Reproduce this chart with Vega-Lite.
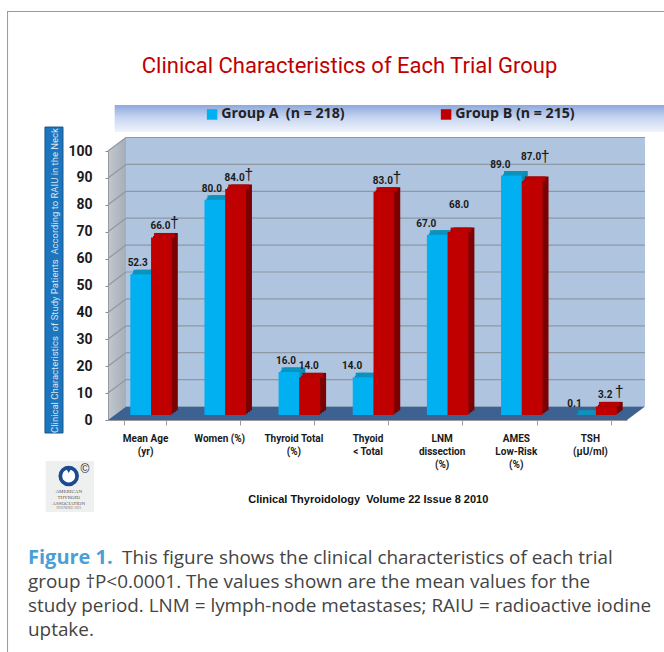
{
"$schema":"https://vega.github.io/schema/vega-lite/v6.json",
"width":519,"height":269,"autosize":"none","padding":{"left":108,"top":151,"right":37,"bottom":232},
"background":"white",
"title":{"text":"Clinical Characteristics of Each Trial Group","font":"Roboto","fontSize":22,"fontWeight":"normal","color":"#c00000","anchor":"middle","dx":-18,"offset":-77,"baseline":"middle"},
"config":{"view":{"stroke":null},"axisY":{"tickCount":11}},
"data":{"values":[
{"category":"Mean Age|(yr)","group":"Group A\u00a0\u00a0(n = 218)","value":52.3,"sig":false},
{"category":"Mean Age|(yr)","group":"Group B (n = 215)","value":66.0,"sig":true},
{"category":"Women (%)","group":"Group A\u00a0\u00a0(n = 218)","value":80.0,"sig":false},
{"category":"Women (%)","group":"Group B (n = 215)","value":84.0,"sig":true},
{"category":"Thyroid Total|(%)","group":"Group A\u00a0\u00a0(n = 218)","value":16.0,"sig":false},
{"category":"Thyroid Total|(%)","group":"Group B (n = 215)","value":14.0,"sig":false},
{"category":"Thyoid|< Total","group":"Group A\u00a0\u00a0(n = 218)","value":14.0,"sig":false},
{"category":"Thyoid|< Total","group":"Group B (n = 215)","value":83.0,"sig":true},
{"category":"LNM|dissection|(%)","group":"Group A\u00a0\u00a0(n = 218)","value":67.0,"sig":false},
{"category":"LNM|dissection|(%)","group":"Group B (n = 215)","value":68.0,"sig":false},
{"category":"AMES|Low-Risk|(%)","group":"Group A\u00a0\u00a0(n = 218)","value":89.0,"sig":false},
{"category":"AMES|Low-Risk|(%)","group":"Group B (n = 215)","value":87.0,"sig":true},
{"category":"TSH|(\u00b5U/ml)","group":"Group A\u00a0\u00a0(n = 218)","value":0.1,"sig":false},
{"category":"TSH|(\u00b5U/ml)","group":"Group B (n = 215)","value":3.2,"sig":true}
]},
"resolve":{"scale":{"x":"independent"}},
"layer":[
{"layer":[
{"data":{"values":[{}]},"mark":{"type":"rect","fill":{"gradient":"linear","x1":0,"y1":0,"x2":0,"y2":1,"stops":[{"offset":0,"color":"#8ea8de"},{"offset":0.45,"color":"#c5d4f0"},{"offset":1,"color":"#f0f4fb"}]}},
 "encoding":{"x":{"datum":0.09,"type":"quantitative","scale":{"domain":[0,7]},"axis":null},"x2":{"datum":7.5},"y":{"datum":117.1,"type":"quantitative","scale":{"domain":[0,100],"nice":false},"axis":{"title":"Clinical Characteristics\u00a0\u00a0of Study Patients\u00a0\u00a0According to RAIU in the Neck","titleFont":"Roboto","titleFontSize":9.5,"titleFontWeight":"normal","titleColor":"#d5e6f3","titleX":-54,"titleY":129,"titleAngle":270,"titleAlign":"center","titleBaseline":"middle","zindex":1,"labelOverlap":false,"grid":false,"labelFont":"Roboto","labelFontWeight":"bold","labelFontSize":14,"labelColor":"#1a1a1a","labelPadding":13,"tickSize":3,"tickColor":"#8a8a8a","domainColor":"#9a9a9a"}},"y2":{"datum":107.06}}},
{"data":{"values":[{}]},"mark":{"type":"rect","fill":"#1d75bd","stroke":"#14568f","strokeWidth":1},"encoding":{"x":{"datum":-0.85,"type":"quantitative"},"x2":{"datum":-0.607},"y":{"datum":108.9,"type":"quantitative"},"y2":{"datum":-4.83}}},
{"data":{"values":[{}]},"mark":{"type":"rect","fill":"#5aaee0"},"encoding":{"x":{"datum":-1.362,"type":"quantitative"},"x2":{"datum":-1.348},"y":{"datum":152.04,"type":"quantitative"},"y2":{"datum":-86.2}}},
{"data":{"values":[{}]},"mark":{"type":"rect","fill":"#5aaee0"},"encoding":{"x":{"datum":-1.362,"type":"quantitative"},"x2":{"datum":7.5},"y":{"datum":152.04,"type":"quantitative"},"y2":{"datum":151.67}}},
{"data":{"values":[{"u":0,"lo":0,"hi":100},{"u":0.243,"lo":5,"hi":105}]},"mark":{"type":"area","fill":{"gradient":"linear","x1":0,"y1":0,"x2":1,"y2":0,"stops":[{"offset":0,"color":"#c3c8cf"},{"offset":1,"color":"#a5adb8"}]}},"encoding":{"x":{"field":"u","type":"quantitative"},"y":{"field":"lo","type":"quantitative"},"y2":{"field":"hi"}}},
{"data":{"values":[{}]},"mark":{"type":"rect","fill":"#afc4df","xOffset":18,"x2Offset":18,"yOffset":-13.5,"y2Offset":-13.5},"encoding":{"x":{"datum":0,"type":"quantitative"},"x2":{"datum":7},"y":{"datum":0,"type":"quantitative"},"y2":{"datum":100}}},
{"data":{"values":[{"v":10},{"v":20},{"v":30},{"v":40},{"v":50},{"v":60},{"v":70},{"v":80},{"v":90},{"v":100}]},"mark":{"type":"rule","stroke":"#8e98a4","strokeWidth":1.2,"xOffset":18,"x2Offset":18,"yOffset":-13.5},"encoding":{"x":{"datum":0,"type":"quantitative"},"x2":{"datum":7},"y":{"field":"v","type":"quantitative"}}},
{"data":{"values":[{"v":10},{"v":20},{"v":30},{"v":40},{"v":50},{"v":60},{"v":70},{"v":80},{"v":90},{"v":100}]},"mark":{"type":"rule","stroke":"#8e98a4","strokeWidth":1.2,"y2Offset":-13.5},"encoding":{"x":{"datum":0,"type":"quantitative"},"x2":{"datum":0.243},"y":{"field":"v","type":"quantitative"},"y2":{"field":"v"}}},
{"data":{"values":[{"u":0,"lo":0,"hi":0},{"u":0.243,"lo":0,"hi":5},{"u":7,"lo":0,"hi":5},{"u":7.243,"lo":5,"hi":5}]},"mark":{"type":"area","fill":"#3d6291"},"encoding":{"x":{"field":"u","type":"quantitative"},"y":{"field":"lo","type":"quantitative"},"y2":{"field":"hi"}}},
{"data":{"values":[{}]},"mark":{"type":"rect","fill":"#eef0f0"},"encoding":{"x":{"datum":-0.84,"type":"quantitative"},"x2":{"datum":-0.19},"y":{"datum":-15.2,"type":"quantitative"},"y2":{"datum":-34.2}}},
{"data":{"values":[{}]},"mark":{"type":"point","shape":"circle","filled":true,"size":420,"color":"#1d4a8e","opacity":1},"encoding":{"x":{"datum":-0.53,"type":"quantitative"},"y":{"datum":-20.8,"type":"quantitative"}}},
{"data":{"values":[{}]},"mark":{"type":"point","shape":"circle","filled":true,"size":170,"color":"white","opacity":1},"encoding":{"x":{"datum":-0.53,"type":"quantitative"},"y":{"datum":-20.8,"type":"quantitative"}}},
{"data":{"values":[{}]},"mark":{"type":"point","shape":"triangle-down","filled":true,"size":55,"color":"#1d4a8e","opacity":1},"encoding":{"x":{"datum":-0.53,"type":"quantitative"},"y":{"datum":-18.5,"type":"quantitative"}}},
{"data":{"values":[{}]},"mark":{"type":"text","text":"\u00a9","font":"Liberation Sans","fontSize":12,"color":"#222","baseline":"middle"},"encoding":{"x":{"datum":-0.31,"type":"quantitative"},"y":{"datum":-18.2,"type":"quantitative"}}},
{"data":{"values":[{}]},"mark":{"type":"text","text":"AMERICAN","font":"Liberation Serif","fontSize":5,"color":"#555","baseline":"middle"},"encoding":{"x":{"datum":-0.53,"type":"quantitative"},"y":{"datum":-26.4,"type":"quantitative"}}},
{"data":{"values":[{}]},"mark":{"type":"text","text":"THYROID","font":"Liberation Serif","fontSize":5,"color":"#555","baseline":"middle"},"encoding":{"x":{"datum":-0.53,"type":"quantitative"},"y":{"datum":-28.6,"type":"quantitative"}}},
{"data":{"values":[{}]},"mark":{"type":"text","text":"ASSOCIATION","font":"Liberation Serif","fontSize":5,"color":"#555","baseline":"middle"},"encoding":{"x":{"datum":-0.53,"type":"quantitative"},"y":{"datum":-30.8,"type":"quantitative"}}},
{"data":{"values":[{}]},"mark":{"type":"text","text":"FOUNDED 1923","font":"Liberation Serif","fontSize":3.5,"color":"#777","baseline":"middle"},"encoding":{"x":{"datum":-0.53,"type":"quantitative"},"y":{"datum":-32.8,"type":"quantitative"}}},
{"data":{"values":[{}]},"mark":{"type":"text","text":"Clinical Thyroidology\u00a0\u00a0Volume 22 Issue 8 2010","font":"Liberation Sans","fontWeight":"bold","fontSize":11,"color":"#111","baseline":"middle"},"encoding":{"x":{"datum":3.51,"type":"quantitative"},"y":{"datum":-29.7,"type":"quantitative"}}},
{"data":{"values":[{}]},"mark":{"type":"text","text":"Figure 1.","font":"Open Sans","fontWeight":"bold","fontSize":20,"color":"#4a9fd8","baseline":"middle","align":"left"},"encoding":{"x":{"datum":-1.079,"type":"quantitative"},"y":{"datum":-51.3,"type":"quantitative"}}},
{"data":{"values":[{}]},"mark":{"type":"text","text":"This figure shows the clinical characteristics of each trial","font":"Open Sans","fontSize":18.9,"color":"#444","baseline":"middle","align":"left"},"encoding":{"x":{"datum":0.189,"type":"quantitative"},"y":{"datum":-51.3,"type":"quantitative"}}},
{"data":{"values":[{}]},"mark":{"type":"text","text":"group \u2020P<0.0001. The values shown are the mean values for the","font":"Open Sans","fontSize":18.9,"color":"#444","baseline":"middle","align":"left"},"encoding":{"x":{"datum":-1.079,"type":"quantitative"},"y":{"datum":-60.2,"type":"quantitative"}}},
{"data":{"values":[{}]},"mark":{"type":"text","text":"study period. LNM = lymph-node metastases; RAIU = radioactive iodine","font":"Open Sans","fontSize":18.9,"color":"#444","baseline":"middle","align":"left"},"encoding":{"x":{"datum":-1.079,"type":"quantitative"},"y":{"datum":-69.1,"type":"quantitative"}}},
{"data":{"values":[{}]},"mark":{"type":"text","text":"uptake.","font":"Open Sans","fontSize":18.9,"color":"#444","baseline":"middle","align":"left"},"encoding":{"x":{"datum":-1.079,"type":"quantitative"},"y":{"datum":-78,"type":"quantitative"}}}
]},
{"resolve":{"scale":{"xOffset":"independent"}},
 "encoding":{
 "x":{"field":"category","type":"nominal","sort":null,"scale":{"paddingInner":0.44,"paddingOuter":0.22},"axis":{"title":null,"orient":"bottom","zindex":1,"labelAngle":0,"labelExpr":"split(datum.label,'|')","labelFont":"Roboto","labelFontWeight":"bold","labelFontSize":10,"labelLineHeight":13,"labelColor":"#1a1a1a","labelPadding":8,"labelBaseline":"top","labelLimit":0,"tickBand":"extent","tickSize":5,"tickColor":"#9a9a9a","domainColor":"#9a9a9a"}},
 "y":{"field":"value","type":"quantitative"}},
 "layer":[
 {"mark":{"type":"bar","yOffset":-9.5,"y2Offset":-9.5},"encoding":{"xOffset":{"field":"group","type":"nominal","scale":{"range":[12,53.5]}},"y2":{"datum":0},"color":{"condition":{"test":"indexof(datum.group,'Group A')==0","value":"#0a8cb5"},"value":"#7c0000"}}},
 {"mark":{"type":"bar","yOffset":-8,"y2Offset":-8},"encoding":{"xOffset":{"field":"group","type":"nominal","scale":{"range":[10,51.5]}},"y2":{"datum":0},"color":{"condition":{"test":"indexof(datum.group,'Group A')==0","value":"#0a8cb5"},"value":"#7c0000"}}},
 {"mark":{"type":"bar","yOffset":-6.5,"y2Offset":-6.5},"encoding":{"xOffset":{"field":"group","type":"nominal","scale":{"range":[8,49.5]}},"y2":{"datum":0},"color":{"condition":{"test":"indexof(datum.group,'Group A')==0","value":"#0a8cb5"},"value":"#7c0000"}}},
 {"mark":{"type":"bar","yOffset":-9.5,"y2Offset":-5},"encoding":{"xOffset":{"field":"group","type":"nominal","scale":{"range":[9,50.5]}},"y2":{"field":"value"},"color":{"condition":{"test":"indexof(datum.group,'Group A')==0","value":"#0a93bd"},"value":"#b80000"}}},
 {"mark":{"type":"bar","yOffset":-5,"y2Offset":-5},"encoding":{"xOffset":{"field":"group","type":"nominal","scale":{"range":[6,47.5]}},"y2":{"datum":0},"color":{"field":"group","type":"nominal","scale":{"range":["#00b0f0","#c00000"]},"legend":{"title":null,"orient":"none","legendX":97,"legendY":-44,"columns":2,"columnPadding":94,"symbolType":"square","symbolSize":110,"symbolOpacity":1,"labelFont":"Open Sans","labelFontWeight":"bold","labelFontSize":14.2,"labelColor":"#222","labelLimit":0,"labelOffset":2}}}},
 {"transform":[{"filter":"indexof(datum.group,'Group A')==0 && indexof(['Mean Age|(yr)','Women (%)','Thyroid Total|(%)'],datum.category)>=0"}],"mark":{"type":"text","font":"Roboto","fontWeight":"bold","fontSize":10,"color":"#1a1a1a","dx":3,"dy":-16,"baseline":"middle"},"encoding":{"xOffset":{"field":"group","type":"nominal","scale":{"domain":["Group A\u00a0\u00a0(n = 218)","Group B (n = 215)"]}},"text":{"field":"value","format":".1f"}}},
 {"transform":[{"filter":"indexof(datum.group,'Group A')==0 && indexof(['Mean Age|(yr)','Women (%)','Thyroid Total|(%)'],datum.category)<0"}],"mark":{"type":"text","font":"Roboto","fontWeight":"bold","fontSize":10,"color":"#1a1a1a","dx":-5,"dy":-16,"baseline":"middle"},"encoding":{"xOffset":{"field":"group","type":"nominal","scale":{"domain":["Group A\u00a0\u00a0(n = 218)","Group B (n = 215)"]}},"text":{"field":"value","format":".1f"}}},
 {"transform":[{"filter":"indexof(datum.group,'Group B')==0 && datum.value!=68 && datum.value!=87"}],"mark":{"type":"text","font":"Roboto","fontWeight":"bold","fontSize":10,"color":"#1a1a1a","dx":5,"dy":-16,"baseline":"middle"},"encoding":{"xOffset":{"field":"group","type":"nominal","scale":{"domain":["Group A\u00a0\u00a0(n = 218)","Group B (n = 215)"]}},"text":{"field":"value","format":".1f"}}},
 {"transform":[{"filter":"indexof(datum.group,'Group B')==0 && datum.value==68"}],"mark":{"type":"text","font":"Roboto","fontWeight":"bold","fontSize":10,"color":"#1a1a1a","dx":7,"dy":-32,"baseline":"middle"},"encoding":{"xOffset":{"field":"group","type":"nominal","scale":{"domain":["Group A\u00a0\u00a0(n = 218)","Group B (n = 215)"]}},"text":{"field":"value","format":".1f"}}},
 {"transform":[{"filter":"indexof(datum.group,'Group B')==0 && datum.value==87"}],"mark":{"type":"text","font":"Roboto","fontWeight":"bold","fontSize":10,"color":"#1a1a1a","dx":5,"dy":-29,"baseline":"middle"},"encoding":{"xOffset":{"field":"group","type":"nominal","scale":{"domain":["Group A\u00a0\u00a0(n = 218)","Group B (n = 215)"]}},"text":{"field":"value","format":".1f"}}},
 {"transform":[{"filter":"datum.sig && datum.value!=87"}],"mark":{"type":"text","text":"\u2020","font":"Liberation Sans","fontSize":16,"color":"#1a1a1a","dx":19,"dy":-19,"baseline":"middle"},"encoding":{"xOffset":{"field":"group","type":"nominal","scale":{"domain":["Group A\u00a0\u00a0(n = 218)","Group B (n = 215)"]}}}},
 {"transform":[{"filter":"datum.sig && datum.value==87"}],"mark":{"type":"text","text":"\u2020","font":"Liberation Sans","fontSize":16,"color":"#1a1a1a","dx":19,"dy":-29,"baseline":"middle"},"encoding":{"xOffset":{"field":"group","type":"nominal","scale":{"domain":["Group A\u00a0\u00a0(n = 218)","Group B (n = 215)"]}}}}
 ]}
]}
